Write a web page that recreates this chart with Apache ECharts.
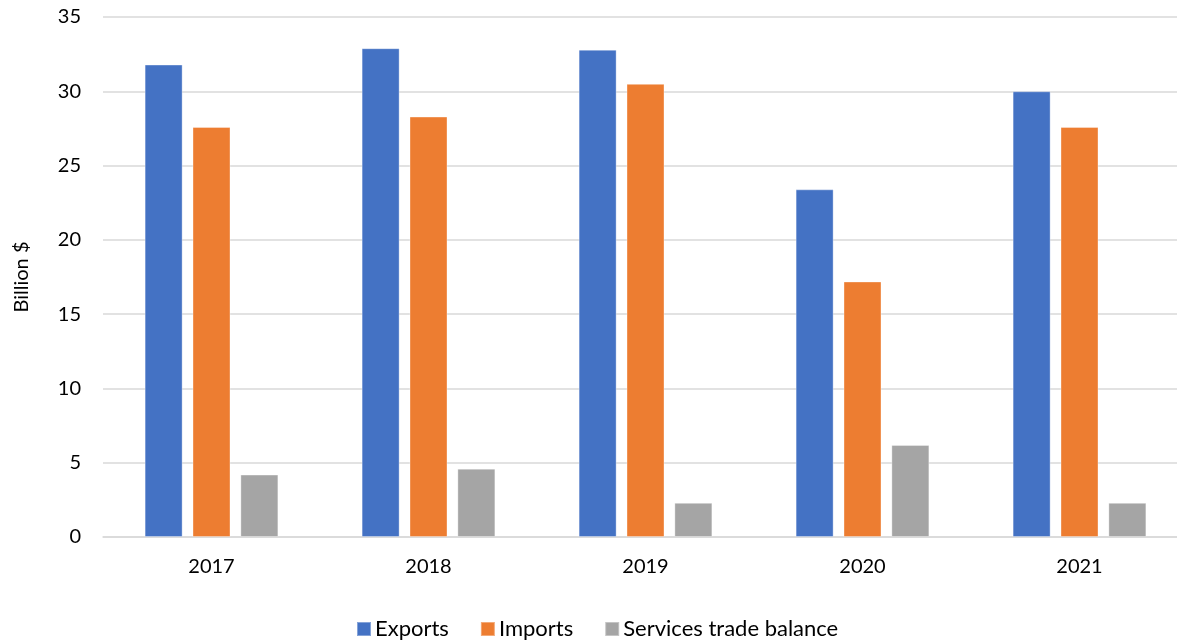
<!DOCTYPE html>
<html>
<head>
<meta charset="utf-8">
<script src="https://cdn.jsdelivr.net/npm/echarts@6/dist/echarts.min.js"></script>
<style>
  html, body { margin: 0; padding: 0; background: #fff; overflow: hidden; }
  #wrap { width: 1177px; height: 643px; overflow: hidden; position: relative; }
  /* the plot runs slightly past the right edge, so the canvas is wider than the view */
  #chart { width: 1190px; height: 643px; }
</style>
</head>
<body>
<div id="wrap"><div id="chart"></div></div>
<script>
// Annual services trade, billion dollars
const years = ['2017', '2018', '2019', '2020', '2021'];
const exportsValues = [31.8, 32.9, 32.8, 23.4, 30.0];
const importsValues = [27.6, 28.3, 30.5, 17.2, 27.6];
const balanceValues = [4.2, 4.6, 2.3, 6.2, 2.3];
const yTicks = [0, 5, 10, 15, 20, 25, 30, 35];

const FONT = 'Lato, "Open Sans", sans-serif';
const TEXT = '#000000';

const chart = echarts.init(document.getElementById('chart'), null, { renderer: 'canvas' });

function barSeries(name, data, color) {
  return {
    name: name,
    type: 'bar',
    data: data,
    barWidth: 38,
    barGap: '26%',
    itemStyle: { color: color, borderColor: 'rgba(255,255,255,0.35)', borderWidth: 1 },
    emphasis: { disabled: true }
  };
}

chart.setOption({
  animation: false,
  backgroundColor: '#ffffff',
  textStyle: { fontFamily: FONT },
  grid: { left: 103, top: 17, width: 1085, height: 520, containLabel: false },
  legend: {
    bottom: -2,
    left: 351,
    itemWidth: 14,
    itemHeight: 14,
    itemGap: 31,
    icon: 'rect',
    textStyle: { fontFamily: FONT, fontSize: 22, color: TEXT, padding: [0, 0, 0, -1] },
    data: ['Exports', 'Imports', 'Services trade balance']
  },
  xAxis: {
    type: 'category',
    data: years,
    axisLine: { show: true, lineStyle: { color: '#d9d9d9', width: 1.5 } },
    axisTick: { show: false },
    axisLabel: { fontFamily: FONT, fontSize: 20, color: TEXT, margin: 20 }
  },
  yAxis: {
    type: 'value',
    min: yTicks[0],
    max: yTicks[yTicks.length - 1],
    interval: 5,
    name: 'Billion $',
    nameLocation: 'middle',
    nameGap: 71,
    nameRotate: 90,
    nameTextStyle: { fontFamily: FONT, fontSize: 20, color: TEXT },
    axisLine: { show: false },
    axisTick: { show: false },
    axisLabel: { fontFamily: FONT, fontSize: 20, color: TEXT, margin: 22 },
    splitLine: { lineStyle: { color: '#d9d9d9', width: 1.5 } }
  },
  series: [
    barSeries('Exports', exportsValues, '#4472C4'),
    barSeries('Imports', importsValues, '#ED7D31'),
    barSeries('Services trade balance', balanceValues, '#A5A5A5')
  ]
});
</script>
</body>
</html>
